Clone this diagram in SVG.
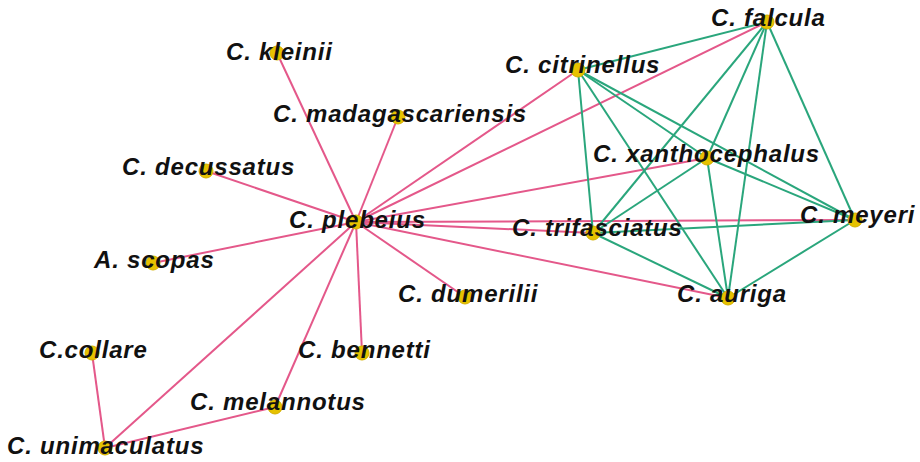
<svg xmlns="http://www.w3.org/2000/svg" width="920" height="462" viewBox="0 0 920 462">
<style>
.p{stroke:#e4588a;stroke-width:2;fill:none}
.g{stroke:#2aa67c;stroke-width:2;fill:none}
.n circle{fill:#e6c200;stroke:#d4b000;stroke-width:1}
.n text{font-family:"Liberation Sans",Arial,sans-serif;font-weight:bold;font-style:italic;font-size:24px;letter-spacing:0.8px;fill:#111}
</style>
<rect width="920" height="462" fill="#ffffff"/>
<g id="edges">
<line class="p" x1="356" y1="222" x2="277" y2="53"/>
<line class="p" x1="356" y1="222" x2="398" y2="117"/>
<line class="p" x1="356" y1="222" x2="206" y2="171"/>
<line class="p" x1="356" y1="222" x2="153" y2="263"/>
<line class="p" x1="356" y1="222" x2="465" y2="297"/>
<line class="p" x1="356" y1="222" x2="362" y2="353"/>
<line class="p" x1="356" y1="222" x2="275" y2="407"/>
<line class="p" x1="356" y1="222" x2="105" y2="448"/>
<line class="p" x1="356" y1="222" x2="578" y2="70"/>
<line class="p" x1="356" y1="222" x2="767" y2="22"/>
<line class="p" x1="356" y1="222" x2="707" y2="158"/>
<line class="p" x1="356" y1="222" x2="855" y2="220"/>
<line class="p" x1="356" y1="222" x2="593" y2="233"/>
<line class="p" x1="356" y1="222" x2="728" y2="298"/>
<line class="p" x1="92" y1="353" x2="105" y2="448"/>
<line class="p" x1="275" y1="407" x2="105" y2="448"/>
<line class="g" x1="578" y1="70" x2="767" y2="22"/>
<line class="g" x1="578" y1="70" x2="707" y2="158"/>
<line class="g" x1="578" y1="70" x2="855" y2="220"/>
<line class="g" x1="578" y1="70" x2="593" y2="233"/>
<line class="g" x1="578" y1="70" x2="728" y2="298"/>
<line class="g" x1="767" y1="22" x2="707" y2="158"/>
<line class="g" x1="767" y1="22" x2="855" y2="220"/>
<line class="g" x1="767" y1="22" x2="593" y2="233"/>
<line class="g" x1="767" y1="22" x2="728" y2="298"/>
<line class="g" x1="707" y1="158" x2="855" y2="220"/>
<line class="g" x1="707" y1="158" x2="593" y2="233"/>
<line class="g" x1="707" y1="158" x2="728" y2="298"/>
<line class="g" x1="855" y1="220" x2="593" y2="233"/>
<line class="g" x1="855" y1="220" x2="728" y2="298"/>
<line class="g" x1="593" y1="233" x2="728" y2="298"/>
</g>
<g id="kleinii" class="n"><circle cx="277" cy="53" r="7"/><text x="226" y="60">C. kleinii</text></g>
<g id="madagascariensis" class="n"><circle cx="398" cy="117" r="7"/><text x="273" y="122">C. madagascariensis</text></g>
<g id="decussatus" class="n"><circle cx="206" cy="171" r="7"/><text x="122" y="175">C. decussatus</text></g>
<g id="plebeius" class="n"><circle cx="356" cy="222" r="7"/><text x="289" y="228">C. plebeius</text></g>
<g id="scopas" class="n"><circle cx="153" cy="263" r="7"/><text x="94" y="268">A. scopas</text></g>
<g id="dumerilii" class="n"><circle cx="465" cy="297" r="7"/><text x="398" y="302">C. dumerilii</text></g>
<g id="collare" class="n"><circle cx="92" cy="353" r="7"/><text x="39" y="358">C.collare</text></g>
<g id="bennetti" class="n"><circle cx="362" cy="353" r="7"/><text x="298" y="358">C. bennetti</text></g>
<g id="melannotus" class="n"><circle cx="275" cy="407" r="7"/><text x="190" y="410">C. melannotus</text></g>
<g id="unimaculatus" class="n"><circle cx="105" cy="448" r="7"/><text x="7" y="454">C. unimaculatus</text></g>
<g id="falcula" class="n"><circle cx="767" cy="22" r="7"/><text x="711" y="26">C. falcula</text></g>
<g id="citrinellus" class="n"><circle cx="578" cy="70" r="7"/><text x="505" y="73">C. citrinellus</text></g>
<g id="xanthocephalus" class="n"><circle cx="707" cy="158" r="7"/><text x="593" y="162">C. xanthocephalus</text></g>
<g id="meyeri" class="n"><circle cx="855" cy="220" r="7"/><text x="800" y="223">C. meyeri</text></g>
<g id="trifasciatus" class="n"><circle cx="593" cy="233" r="7"/><text x="512" y="236">C. trifasciatus</text></g>
<g id="auriga" class="n"><circle cx="728" cy="298" r="7"/><text x="677" y="302">C. auriga</text></g>
</svg>
